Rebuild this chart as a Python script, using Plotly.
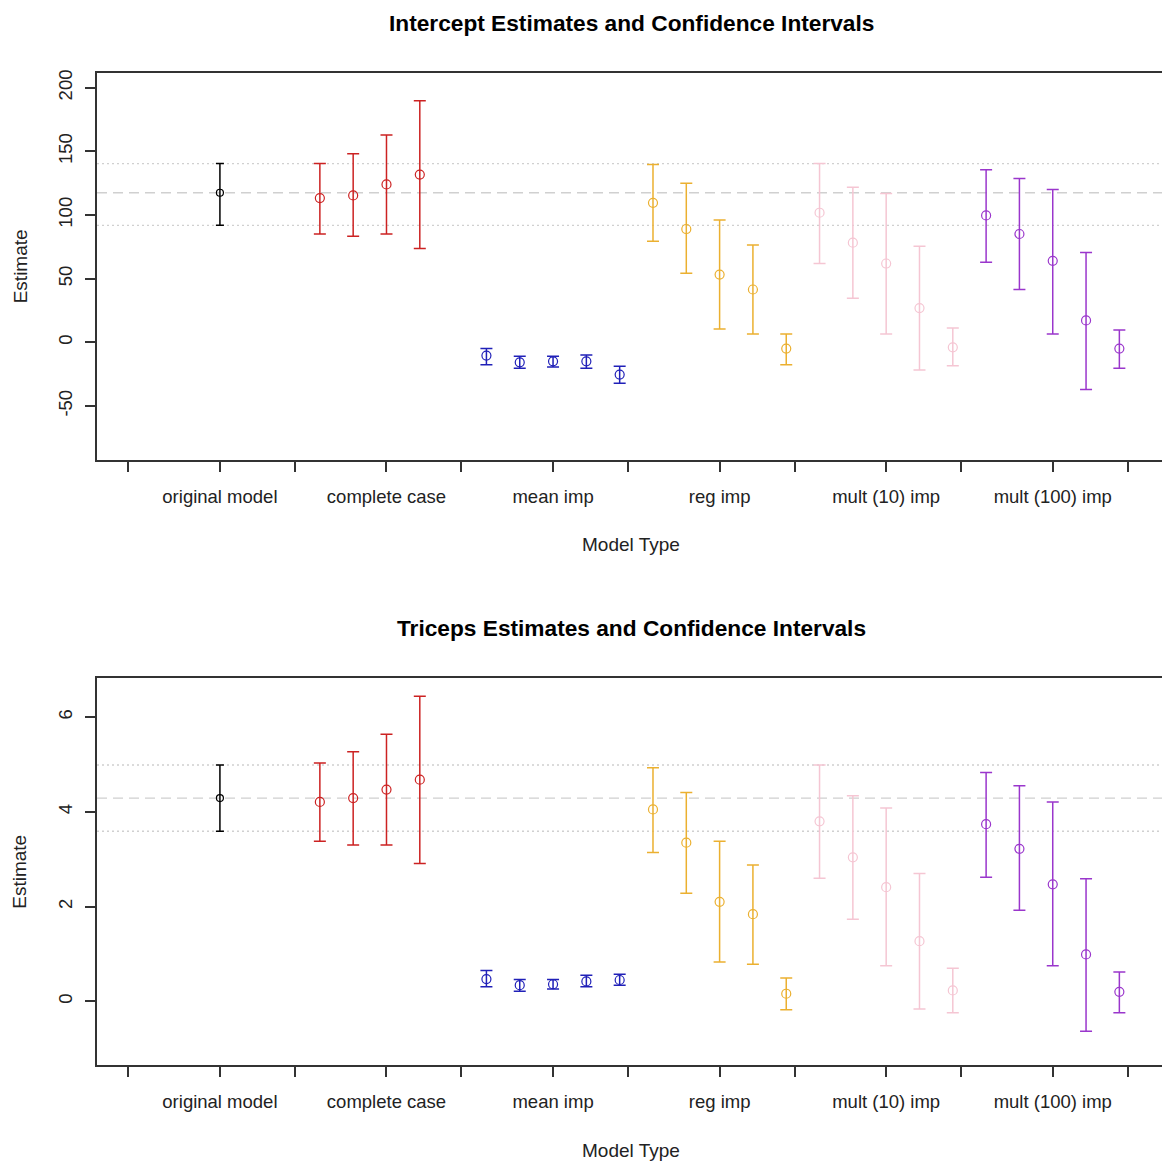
import plotly.graph_objects as go
from plotly.subplots import make_subplots

# ---------------- data ----------------
group_labels = ["original model", "complete case", "mean imp", "reg imp", "mult (10) imp", "mult (100) imp"]
group_colors = ["#000000", "#CC2222", "#2020B8", "#EBB030", "#F5C6D3", "#9A36CC"]

# Intercept panel
int_est = [
    [117.5],
    [113.3, 115.4, 124.0, 131.8],
    [-10.4, -15.7, -14.9, -14.9, -25.3],
    [109.6, 89.0, 53.2, 41.5, -4.9],
    [101.8, 78.3, 61.9, 26.9, -3.9],
    [99.7, 85.1, 64.0, 17.2, -4.9],
]
int_low = [
    [91.9],
    [85.1, 83.3, 85.1, 73.6],
    [-17.7, -20.4, -19.3, -20.4, -32.1],
    [79.3, 54.3, 10.4, 6.5, -17.7],
    [61.9, 34.7, 6.5, -21.7, -18.5],
    [62.9, 41.5, 6.5, -37.1, -20.4],
]
int_up = [
    [140.4],
    [140.4, 148.2, 162.9, 189.8],
    [-4.9, -11.0, -11.0, -9.9, -18.8],
    [139.6, 125.0, 96.1, 76.5, 6.5],
    [140.4, 121.9, 116.9, 75.4, 11.2],
    [135.5, 128.7, 120.0, 70.5, 9.6],
]

# Triceps panel
tri_est = [
    [4.29],
    [4.21, 4.29, 4.47, 4.68],
    [0.47, 0.34, 0.36, 0.42, 0.45],
    [4.05, 3.35, 2.10, 1.84, 0.16],
    [3.80, 3.04, 2.41, 1.27, 0.23],
    [3.74, 3.22, 2.47, 0.99, 0.20],
]
tri_low = [
    [3.59],
    [3.38, 3.30, 3.30, 2.91],
    [0.31, 0.21, 0.26, 0.31, 0.34],
    [3.14, 2.28, 0.83, 0.78, -0.18],
    [2.60, 1.73, 0.75, -0.16, -0.24],
    [2.62, 1.92, 0.75, -0.63, -0.24],
]
tri_up = [
    [4.99],
    [5.03, 5.27, 5.64, 6.44],
    [0.65, 0.46, 0.46, 0.55, 0.57],
    [4.93, 4.41, 3.38, 2.88, 0.49],
    [4.99, 4.34, 4.08, 2.70, 0.70],
    [4.83, 4.55, 4.21, 2.59, 0.62],
]

titles = ["Intercept Estimates and Confidence Intervals", "Triceps Estimates and Confidence Intervals"]
y_ticks = [[-50, 0, 50, 100, 150, 200], [0, 2, 4, 6]]
y_ranges = [[-92.3, 211.7], [-1.35, 6.82]]

# ---------------- layout helpers ----------------
W, H = 1162, 1164
FONT = "Liberation Sans, Arial, sans-serif"

def positions(g, n):
    if g == 0:
        return [0]
    start = 5 * g - 2
    return [start + i for i in range(n)]

tickvals = []
ticktext = []
for g in range(len(group_labels)):
    tickvals += [5 * g - 2.75, 5 * g]
    ticktext += ["", group_labels[g]]
tickvals.append(5 * len(group_labels) - 2.75)
ticktext.append("")

x_range = [-3.69, 28.28]

fig = make_subplots(rows=2, cols=1)

panels = [(int_est, int_low, int_up), (tri_est, tri_low, tri_up)]
for p, (est, low, up) in enumerate(panels):
    row = p + 1
    for g in range(len(group_labels)):
        xs = positions(g, len(est[g]))
        plus = [u - e for u, e in zip(up[g], est[g])]
        minus = [e - l for e, l in zip(est[g], low[g])]
        small = g == 0
        fig.add_trace(go.Scatter(
            x=xs, y=est[g], mode="markers",
            marker=dict(symbol="circle-open", size=7 if small else 9,
                        color=group_colors[g], line=dict(width=1.2, color=group_colors[g])),
            error_y=dict(type="data", symmetric=False, array=plus, arrayminus=minus,
                         color=group_colors[g], thickness=1.5, width=4 if small else 6),
            showlegend=False, hoverinfo="x+y",
        ), row=row, col=1)
    # reference lines from the original model (added after traces so the subplot is not empty)
    fig.add_hline(y=est[0][0], line=dict(color="#D0D0D0", width=1.4, dash="10px,6px"), row=row, col=1, layer="below")
    fig.add_hline(y=low[0][0], line=dict(color="#D0D0D0", width=1.4, dash="2px,3px"), row=row, col=1, layer="below")
    fig.add_hline(y=up[0][0], line=dict(color="#D0D0D0", width=1.4, dash="2px,3px"), row=row, col=1, layer="below")

domains_y = [[1 - 458 / H, 1 - 70 / H], [1 - 1065 / H, 1 - 677 / H]]
x_dom = [97 / W, 1.0]

axis_font = dict(family=FONT, size=18.5, color="#222222")
for p in range(2):
    xa = "xaxis" if p == 0 else "xaxis2"
    ya = "yaxis" if p == 0 else "yaxis2"
    fig.layout[xa].update(
        domain=x_dom, range=x_range, showgrid=False, zeroline=False,
        showline=True, mirror=True, linecolor="#333333", linewidth=1.5,
        ticks="outside", ticklen=10, tickwidth=1.5, tickcolor="#333333",
        tickvals=tickvals, ticktext=ticktext, tickfont=axis_font,
        ticklabelstandoff=9,
    )
    fig.layout[ya].update(
        domain=domains_y[p], range=y_ranges[p], showgrid=False, zeroline=False,
        showline=True, mirror=False, linecolor="#333333", linewidth=1.5,
        ticks="outside", ticklen=10, tickwidth=1.5, tickcolor="#333333",
        tickvals=y_ticks[p], ticktext=[str(v) for v in y_ticks[p]],
        tickangle=-90, tickfont=axis_font, ticklabelstandoff=6,
    )

annotations = []
title_y = [20, 627]
xlabel_y = [543, 1150]
for p in range(2):
    annotations.append(dict(text="<b>%s</b>" % titles[p], x=631 / W, y=1 - title_y[p] / H,
                            xref="paper", yref="paper", showarrow=False,
                            font=dict(family=FONT, size=22.7, color="#000000"),
                            xanchor="center", yanchor="middle"))
    annotations.append(dict(text="Model Type", x=631 / W, y=1 - xlabel_y[p] / H,
                            xref="paper", yref="paper", showarrow=False,
                            font=dict(family=FONT, size=19, color="#222222"),
                            xanchor="center", yanchor="middle"))
    ymid = (domains_y[p][0] + domains_y[p][1]) / 2
    annotations.append(dict(text="Estimate", x=20 / W, y=ymid,
                            xref="paper", yref="paper", showarrow=False, textangle=-90,
                            font=dict(family=FONT, size=19, color="#222222"),
                            xanchor="center", yanchor="middle"))

fig.update_layout(
    width=W, height=H, margin=dict(l=0, r=0, t=0, b=0),
    paper_bgcolor="white", plot_bgcolor="white",
    annotations=annotations, showlegend=False,
)

fig.write_html("out.html")
